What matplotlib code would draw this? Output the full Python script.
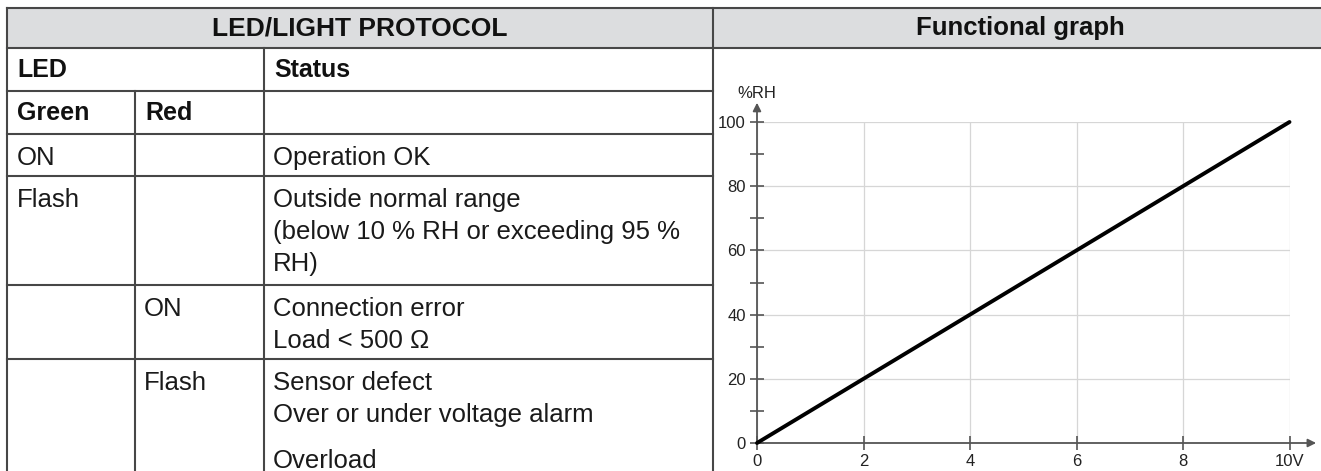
import matplotlib.pyplot as plt
from matplotlib.patches import Rectangle
from matplotlib.ticker import MultipleLocator

plt.rcParams['font.family'] = ['Liberation Sans', 'DejaVu Sans']

# table content
title_left = 'LED/LIGHT PROTOCOL'
title_right = 'Functional graph'
head_led = 'LED'
head_status = 'Status'
head_green = 'Green'
head_red = 'Red'
green_state = ['ON', 'Flash', '', '']
red_state = ['', '', 'ON', 'Flash']
# each row: list of paragraphs, paragraphs may hold several lines
status_text = [
    ['Operation OK'],
    ['Outside normal range\n(below 10 % RH or exceeding 95 %\nRH)'],
    ['Connection error\nLoad < 500 Ω'],
    ['Sensor defect\nOver or under voltage alarm', 'Overload'],
]

# functional graph data
volts = [0, 10]
rh = [0, 100]
x_ticks = [0, 2, 4, 6, 8, 10]
x_labels = ['0', '2', '4', '6', '8', '10V']
y_ticks = [0, 20, 40, 60, 80, 100]
y_labels = ['0', '20', '40', '60', '80', '100']

W, H = 1321, 471
fig = plt.figure(figsize=(W / 100, H / 100), dpi=100)

# background axes in pixel coordinates for the table
tab = fig.add_axes([0, 0, 1, 1])
tab.set_xlim(0, W)
tab.set_ylim(H, 0)
tab.axis('off')

line_col = '#474747'
line_w = 1.5
x_left, x_red, x_status, x_graph, x_right = 7, 135, 264, 713, 1327
y_top, y_head, y_led, y_gr = 8, 48, 91, 134
row_tops = [134, 176, 285, 359]

tab.add_patch(Rectangle((x_left, y_top), x_right - x_left, y_head - y_top,
                        facecolor='#dcdddf', edgecolor='none'))


def hline(y, x0, x1):
    tab.plot([x0, x1], [y, y], color=line_col, lw=line_w,
             solid_capstyle='projecting')


def vline(x, y0, y1):
    tab.plot([x, x], [y0, y1], color=line_col, lw=line_w,
             solid_capstyle='projecting')


hline(y_top, x_left, x_right)
hline(y_head, x_left, x_right)
for y in [y_led] + row_tops[1:]:
    hline(y, x_left, x_graph)
hline(y_gr, x_left, x_graph)
vline(x_left, y_top, H + 5)
vline(x_graph, y_top, H + 5)
vline(x_status, y_head, H + 5)
vline(x_red, y_led, H + 5)

# header texts
tab.text((x_left + x_graph) / 2, 35, title_left, ha='center', va='baseline',
         fontsize=19, fontweight='bold', color='#111111')
tab.text((x_graph + x_right) / 2, 35, title_right, ha='center', va='baseline',
         fontsize=18.5, fontweight='bold', color='#111111')
tab.text(x_left + 10, 77, head_led, va='baseline', fontsize=18,
         fontweight='bold', color='#111111')
tab.text(x_status + 10, 77, head_status, va='baseline', fontsize=18,
         fontweight='bold', color='#111111')
tab.text(x_left + 10, 120, head_green, va='baseline', fontsize=18,
         fontweight='bold', color='#111111')
tab.text(x_red + 10, 120, head_red, va='baseline', fontsize=18,
         fontweight='bold', color='#111111')

# body rows
body_size = 18.5
line_step = 32
for top, g, r, paras in zip(row_tops, green_state, red_state, status_text):
    base = top + 31
    tab.text(x_left + 10, base, g, va='baseline', fontsize=body_size,
             color='#1a1a1a')
    tab.text(x_red + 9, base, r, va='baseline', fontsize=body_size,
             color='#1a1a1a')
    y = base
    for p in paras:
        for ln in p.split('\n'):
            tab.text(x_status + 9, y, ln, va='baseline', fontsize=body_size,
                     color='#1a1a1a')
            y += line_step
        y += 14

# graph axes placed over the right column
gx0, gx1, gy0, gy1 = 757, 1289.5, 443, 122
gx = fig.add_axes([gx0 / W, (H - gy0) / H, (gx1 - gx0) / W, (gy0 - gy1) / H])
gx.set_facecolor('none')
gx.set_xlim(0, 10)
gx.set_ylim(0, 100)
for s in gx.spines.values():
    s.set_visible(False)

axis_col = '#555555'
gx.set_xticks(x_ticks)
gx.set_xticklabels(x_labels)
gx.set_yticks(y_ticks)
gx.set_yticklabels(y_labels)
gx.yaxis.set_minor_locator(MultipleLocator(10))
gx.tick_params(axis='both', which='both', direction='inout', length=10,
               width=1.2, color=axis_col, labelsize=12, labelcolor='#222222',
               pad=3)
gx.set_axisbelow(True)
gx.grid(True, which='major', color='#d6d6d6', lw=0.9)

arrow = dict(arrowstyle='-|>', color=axis_col, lw=1.3, mutation_scale=12,
             shrinkA=0, shrinkB=0)
gx.annotate('', xy=(1.05, 0), xytext=(0, 0), xycoords='axes fraction',
            arrowprops=arrow)
gx.annotate('', xy=(0, 1.06), xytext=(0, 0), xycoords='axes fraction',
            arrowprops=arrow)
gx.text(0, 1.09, '%RH', transform=gx.transAxes, ha='center', va='center',
        fontsize=12, color='#222222')

gx.plot(volts, rh, color='black', lw=2.8, solid_capstyle='round',
        clip_on=False, zorder=4)

fig.savefig('out.png', dpi=100)
